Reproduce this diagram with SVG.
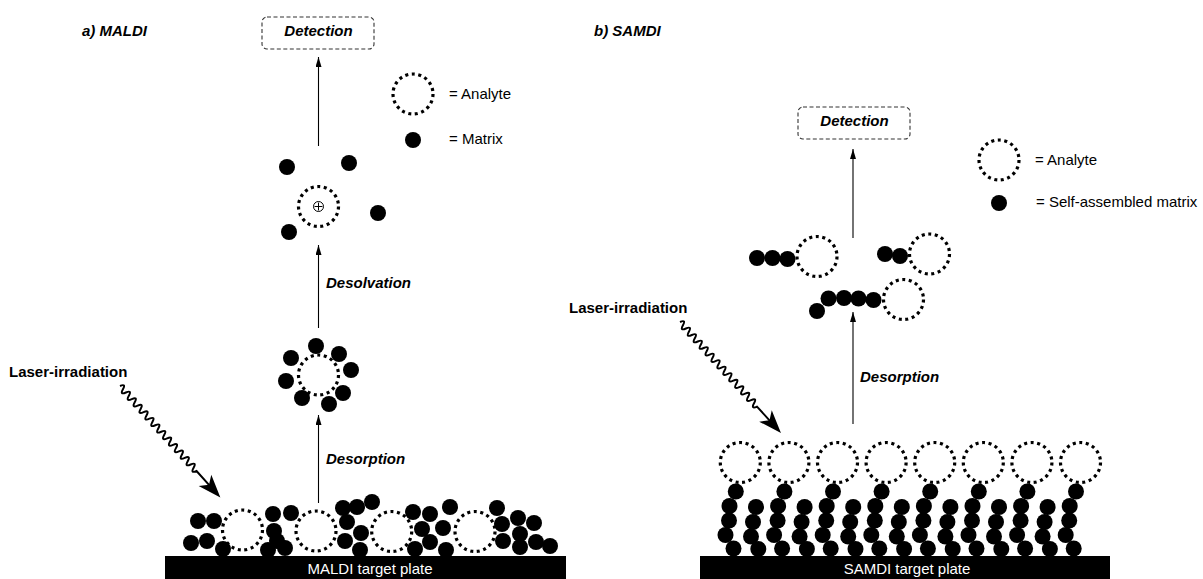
<svg xmlns="http://www.w3.org/2000/svg" width="1203" height="579" viewBox="0 0 1203 579">
<style>
text{font-family:"Liberation Sans",Arial,Helvetica,sans-serif;font-size:15px;fill:#000}
.bi{font-weight:bold;font-style:italic}
.b{font-weight:bold}
.plate-t{fill:#fff;text-anchor:middle}
.an{fill:none;stroke:#000;stroke-width:3.2;stroke-dasharray:3 3.6}
.mx{fill:#000}
.det{fill:none;stroke:#333;stroke-width:1.1;stroke-dasharray:4 2.5}
.ar{stroke:#000;stroke-width:1.1;fill:none}
.wave{stroke:#000;stroke-width:2;fill:none}
</style>
<defs>
<marker id="ah" viewBox="0 0 10 6" refX="10" refY="3" markerWidth="10" markerHeight="6" markerUnits="userSpaceOnUse" orient="auto">
<path d="M0,0 L10,3 L0,6 Z" fill="#000"/>
</marker>
<g id="laser">
<path class="wave" d="M0,0 q2.2,-6.5 4.4,0 t4.4,0 t4.4,0 t4.4,0 t4.4,0 t4.4,0 t4.4,0 t4.4,0 t4.4,0 t4.4,0 t4.4,0 t4.4,0 t4.4,0 t4.4,0 t4.4,0 t4.4,0 t4.4,0 t4.4,0 t4.4,0 t4.4,0 t4.4,0 t4.4,0 t4.4,0 t4.4,0 t4.4,0 t4.4,0 L136,0"/>
<path d="M150,0 L127,-8.5 L133,0 L127,8.5 Z" fill="#000"/>
</g>
<circle id="dot" r="8" class="mx"/>
<circle id="ana" r="20" class="an"/>
</defs>

<!-- Panel a) MALDI -->
<g id="title-a"><text class="bi" x="82" y="36">a) MALDI</text></g>

<g id="detection-a">
<rect class="det" x="262" y="17" width="112" height="32" rx="5"/>
<text class="bi" x="318.5" y="36" text-anchor="middle">Detection</text>
</g>

<g id="legend-a">
<use href="#ana" x="413" y="94"/>
<text x="449" y="99">= Analyte</text>
<use href="#dot" x="413" y="140"/>
<text x="449" y="144">= Matrix</text>
</g>

<g id="ion-cluster-a">
<use href="#ana" x="318.5" y="206.5"/>
<circle cx="318.5" cy="206.5" r="5" fill="none" stroke="#000" stroke-width="1"/>
<path d="M314.5,206.5 H322.5 M318.5,202.5 V210.5" stroke="#000" stroke-width="1"/>
<use href="#dot" x="287" y="167"/>
<use href="#dot" x="349" y="163"/>
<use href="#dot" x="378" y="213"/>
<use href="#dot" x="289" y="232"/>
</g>

<g id="cluster-a">
<use href="#ana" x="318.5" y="375"/>
<use href="#dot" x="316" y="346"/>
<use href="#dot" x="339" y="354"/>
<use href="#dot" x="351" y="370"/>
<use href="#dot" x="343" y="393"/>
<use href="#dot" x="329" y="404"/>
<use href="#dot" x="302" y="398"/>
<use href="#dot" x="286" y="381"/>
<use href="#dot" x="291" y="358"/>
</g>

<g id="labels-a">
<text class="bi" x="326" y="288">Desolvation</text>
<text class="bi" x="326" y="464">Desorption</text>
<text class="b" x="9" y="377">Laser-irradiation</text>
</g>

<g id="surface-a">
<use href="#ana" x="242.5" y="530"/>
<use href="#ana" x="316" y="531"/>
<use href="#ana" x="391.7" y="531.5"/>
<use href="#ana" x="475" y="531.5"/>
<use href="#dot" x="198" y="521"/>
<use href="#dot" x="214" y="521"/>
<use href="#dot" x="191" y="543"/>
<use href="#dot" x="207" y="541"/>
<use href="#dot" x="223" y="549"/>
<use href="#dot" x="273" y="514"/>
<use href="#dot" x="291" y="513"/>
<use href="#dot" x="274" y="531"/>
<use href="#dot" x="277" y="541"/>
<use href="#dot" x="268" y="550"/>
<use href="#dot" x="285" y="548"/>
<use href="#dot" x="343" y="508"/>
<use href="#dot" x="357" y="507"/>
<use href="#dot" x="372" y="502"/>
<use href="#dot" x="347" y="522"/>
<use href="#dot" x="361" y="533"/>
<use href="#dot" x="345" y="541"/>
<use href="#dot" x="360" y="550"/>
<use href="#dot" x="413" y="512"/>
<use href="#dot" x="430" y="514"/>
<use href="#dot" x="450" y="507"/>
<use href="#dot" x="422" y="529"/>
<use href="#dot" x="443" y="528"/>
<use href="#dot" x="430" y="542"/>
<use href="#dot" x="415" y="549"/>
<use href="#dot" x="446" y="550"/>
<use href="#dot" x="497" y="508"/>
<use href="#dot" x="502" y="524"/>
<use href="#dot" x="518" y="518"/>
<use href="#dot" x="534" y="523"/>
<use href="#dot" x="520" y="534"/>
<use href="#dot" x="503" y="541"/>
<use href="#dot" x="520" y="547"/>
<use href="#dot" x="536" y="542"/>
<use href="#dot" x="550" y="546"/>
</g>

<g id="plate-a">
<rect x="165" y="556" width="401" height="23" fill="#000"/>
<text class="plate-t" x="370" y="574">MALDI target plate</text>
</g>

<!-- Panel b) SAMDI -->
<g id="title-b"><text class="bi" x="594" y="36">b) SAMDI</text></g>

<g id="detection-b">
<rect class="det" x="798" y="107" width="112" height="32" rx="5"/>
<text class="bi" x="854.5" y="126" text-anchor="middle">Detection</text>
</g>

<g id="legend-b">
<use href="#ana" x="999" y="160"/>
<text x="1035" y="165">= Analyte</text>
<use href="#dot" x="999" y="203"/>
<text x="1036" y="207">= Self-assembled matrix</text>
</g>

<g id="released-b">
<use href="#dot" x="757" y="258"/>
<use href="#dot" x="772.5" y="258"/>
<use href="#dot" x="787.5" y="259"/>
<use href="#ana" x="817" y="256.5"/>
<use href="#dot" x="885" y="254"/>
<use href="#dot" x="900" y="256"/>
<use href="#ana" x="929.5" y="254"/>
<use href="#dot" x="817" y="311"/>
<use href="#dot" x="828.5" y="298.5"/>
<use href="#dot" x="844" y="298"/>
<use href="#dot" x="858.5" y="298.5"/>
<use href="#dot" x="873.5" y="300"/>
<use href="#ana" x="903.5" y="299.5"/>
</g>

<g id="labels-b">
<text class="bi" x="860" y="382">Desorption</text>
<text class="b" x="569" y="313">Laser-irradiation</text>
</g>

<g id="surface-b">
<g id="unit">
<use href="#ana" x="740.3" y="462.5"/>
<use href="#dot" x="735.8" y="491.5"/>
<use href="#dot" x="729.5" y="506"/>
<use href="#dot" x="729" y="520.5"/>
<use href="#dot" x="725.5" y="535"/>
<use href="#dot" x="733.5" y="548.5"/>
</g>
<g id="spacer">
<use href="#dot" x="756" y="507"/>
<use href="#dot" x="753" y="522"/>
<use href="#dot" x="751" y="536.5"/>
<use href="#dot" x="758.3" y="549"/>
</g>
<use href="#unit" x="48.6"/><use href="#spacer" x="48.6"/>
<use href="#unit" x="97.2"/><use href="#spacer" x="97.2"/>
<use href="#unit" x="145.8"/><use href="#spacer" x="145.8"/>
<use href="#unit" x="194.4"/><use href="#spacer" x="194.4"/>
<use href="#unit" x="243"/><use href="#spacer" x="243"/>
<use href="#unit" x="291.6"/><use href="#spacer" x="291.6"/>
<use href="#unit" x="340.2"/>
</g>

<g id="plate-b">
<rect x="700" y="556" width="410" height="23" fill="#000"/>
<text class="plate-t" x="907" y="574">SAMDI target plate</text>
</g>

<!-- Connectors -->
<g id="connectors">
<line class="ar" x1="318.5" y1="146" x2="318.5" y2="57" marker-end="url(#ah)"/>
<line class="ar" x1="318.5" y1="328" x2="318.5" y2="245" marker-end="url(#ah)"/>
<line class="ar" x1="318.5" y1="503" x2="318.5" y2="415" marker-end="url(#ah)"/>
<line class="ar" x1="853" y1="238" x2="853" y2="149" marker-end="url(#ah)"/>
<line class="ar" x1="853" y1="424" x2="853" y2="312" marker-end="url(#ah)"/>
<use href="#laser" transform="translate(120,386) rotate(48)"/>
<use href="#laser" transform="translate(680,322) rotate(47.7)"/>
</g>
</svg>
